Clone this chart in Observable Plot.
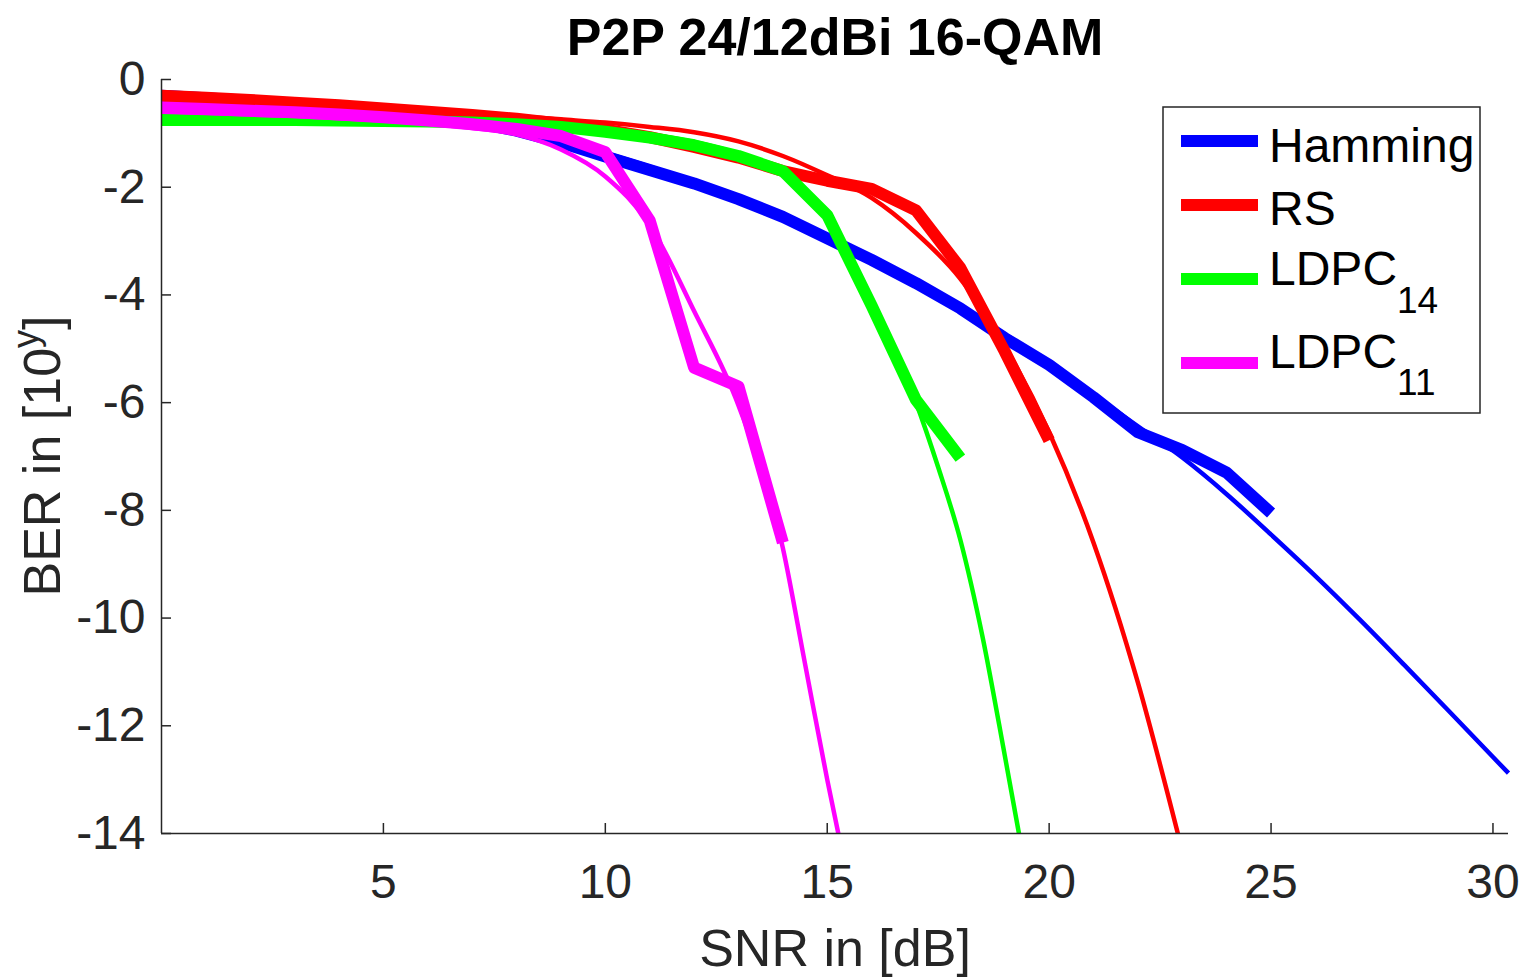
<!DOCTYPE html>
<html><head><meta charset="utf-8">
<script src="https://cdn.jsdelivr.net/npm/d3@7"></script>
<script src="https://cdn.jsdelivr.net/npm/@observablehq/plot@0.6"></script>
<style>
html,body{margin:0;padding:0;background:#fff;}
#chart{width:1522px;height:979px;}
</style></head><body><div id="chart"></div>
<script>
// ---------- data ----------
const titleText = "P2P 24/12dBi 16-QAM";
const xLabelText = "SNR in [dB]";
const yLabelMain = "BER in [10";
const yLabelSup = "y";
const yLabelEnd = "]";

const xTicks = [5, 10, 15, 20, 25, 30];
const yTicks = [0, -2, -4, -6, -8, -10, -12, -14];
const xDomain = [0, 30.35];
const yDomain = [-14, 0];

const seriesNames = ["Hamming", "RS", "LDPC", "LDPC"];
const seriesSubs = ["", "", "14", "11"];
const seriesColors = ["#0000ff", "#ff0000", "#00ff00", "#ff00ff"];

// measured (thick)
const hammingSNR = [0,1,2,3,4,5,6,7,8,9,10,11,12,13,14,15,16,17,18,19,20,21,22,23,24,25];
const hammingBER = [-0.30,-0.35,-0.40,-0.45,-0.50,-0.57,-0.66,-0.78,-0.95,-1.17,-1.43,-1.68,-1.93,-2.22,-2.55,-2.95,-3.35,-3.78,-4.25,-4.80,-5.30,-5.90,-6.55,-6.88,-7.30,-8.05];
const rsSNR = [0,1,2,3,4,5,6,7,8,9,10,11,12,13,14,15,16,17,18,19,20];
const rsBER = [-0.30,-0.34,-0.38,-0.43,-0.48,-0.54,-0.60,-0.66,-0.73,-0.82,-0.93,-1.07,-1.25,-1.45,-1.70,-1.88,-2.03,-2.43,-3.50,-5.05,-6.70];
const ldpc14SNR = [0,1,2,3,4,5,6,7,8,9,10,11,12,13,14,15,16,17,18];
const ldpc14BER = [-0.75,-0.75,-0.75,-0.75,-0.76,-0.77,-0.78,-0.80,-0.83,-0.88,-0.97,-1.08,-1.22,-1.42,-1.70,-2.52,-4.20,-5.95,-7.03];
const ldpc11SNR = [0,1,2,3,4,5,6,7,8,9,10,11,12,13,14];
const ldpc11BER = [-0.52,-0.55,-0.58,-0.61,-0.65,-0.70,-0.76,-0.83,-0.92,-1.05,-1.35,-2.62,-5.35,-5.70,-8.60];

// fitted (thin)
const hammingFitSNR = [0,1,2,3,4,5,6,7,8,9,10,11,12,13,14,15,16,17,18,19,20,21,22,23,24,25,26,27,28,29,30,30.35];
const hammingFitBER = [-0.25,-0.31,-0.37,-0.44,-0.51,-0.59,-0.68,-0.80,-0.95,-1.14,-1.37,-1.62,-1.90,-2.20,-2.53,-2.90,-3.30,-3.74,-4.22,-4.73,-5.27,-5.85,-6.44,-7.02,-7.70,-8.45,-9.22,-10.03,-10.87,-11.72,-12.58,-12.88];
const rsFitSNR = [0,1,2,3,4,5,6,7,8,9,10,11,12,13,14,15,16,17,18,19,20,21,22,22.9];
const rsFitBER = [-0.28,-0.33,-0.38,-0.43,-0.48,-0.53,-0.58,-0.63,-0.68,-0.74,-0.80,-0.88,-0.98,-1.15,-1.42,-1.78,-2.20,-2.85,-3.70,-4.95,-6.55,-8.60,-11.20,-14.0];
const ldpc14FitSNR = [0,2,4,6,7,8,9,10,11,12,13,14,14.5,15,15.5,16,16.5,17,17.5,18,18.5,19,19.32];
const ldpc14FitBER = [-0.78,-0.78,-0.79,-0.80,-0.81,-0.83,-0.87,-0.93,-1.02,-1.16,-1.38,-1.75,-2.05,-2.60,-3.35,-4.15,-5.00,-6.00,-7.20,-8.55,-10.35,-12.55,-14.0];
const ldpc11FitSNR = [0,1,2,3,4,5,6,7,8,9,10,11,12,13,14,14.5,15,15.25];
const ldpc11FitBER = [-0.60,-0.62,-0.65,-0.68,-0.72,-0.76,-0.82,-0.90,-1.02,-1.30,-1.80,-2.70,-4.30,-6.05,-8.70,-10.85,-13.0,-14.0];

// ---------- build ----------
const toRows = (xs, ys) => xs.map((x, i) => ({snr: x, ber: ys[i]}));
const measured = [
  toRows(hammingSNR, hammingBER), toRows(rsSNR, rsBER),
  toRows(ldpc14SNR, ldpc14BER), toRows(ldpc11SNR, ldpc11BER)
];
const fitted = [
  toRows(hammingFitSNR, hammingFitBER), toRows(rsFitSNR, rsFitBER),
  toRows(ldpc14FitSNR, ldpc14FitBER), toRows(ldpc11FitSNR, ldpc11FitBER)
];

const FONT = "'Liberation Sans', Arial, Helvetica, sans-serif";
const AX = "#262626";

const lineMarks = [];
for (let k = 0; k < 4; k++) {
  lineMarks.push(Plot.line(measured[k], {x: "snr", y: "ber", stroke: seriesColors[k], strokeWidth: 12, strokeLinecap: "butt", strokeLinejoin: "round"}));
  lineMarks.push(Plot.line(fitted[k], {x: "snr", y: "ber", stroke: seriesColors[k], strokeWidth: 4.5, curve: "monotone-x", strokeLinecap: "butt"}));
}

const chart = Plot.plot({
  width: 1522, height: 979,
  marginLeft: 161, marginRight: 14, marginTop: 79, marginBottom: 146,
  style: {fontFamily: FONT, background: "#fff", color: AX, overflow: "visible"},
  x: {domain: xDomain},
  y: {domain: yDomain},
  marks: [
    ...lineMarks,
    Plot.ruleX([xDomain[0]], {stroke: AX, strokeWidth: 1.5}),
    Plot.ruleY([yDomain[0]], {stroke: AX, strokeWidth: 1.5}),
    Plot.axisX(xTicks, {tickSize: -10, tickPadding: 40, fontSize: 48, tickFormat: d => String(d), label: null, stroke: AX, fill: AX, strokeWidth: 1.5}),
    Plot.axisY(yTicks, {tickSize: -10, tickPadding: 26, fontSize: 48, tickFormat: d => String(d), label: null, stroke: AX, fill: AX, strokeWidth: 1.5}),
    Plot.text([titleText], {text: d => d, frameAnchor: "top", dy: -41, fontSize: 52, fontWeight: "bold", fill: "#000", lineAnchor: "middle"}),
    Plot.text([xLabelText], {text: d => d, frameAnchor: "bottom", dy: 116, fontSize: 52, fill: AX, lineAnchor: "middle"})
  ]
});
document.getElementById("chart").appendChild(chart);

// ---------- y label with superscript ----------
const svg = d3.select(chart.tagName.toLowerCase() === "svg" ? chart : chart.querySelector("svg"));
const yl = svg.append("text")
  .attr("transform", "translate(60,456) rotate(-90)")
  .attr("text-anchor", "middle")
  .attr("font-family", FONT).attr("font-size", 52).attr("fill", AX);
yl.append("tspan").text(yLabelMain);
yl.append("tspan").attr("font-size", 36).attr("dy", -22).text(yLabelSup);
yl.append("tspan").attr("dy", 22).text(yLabelEnd);

// ---------- legend ----------
const lg = svg.append("g").attr("font-family", FONT).attr("text-anchor", "start");
lg.append("rect").attr("x", 1163).attr("y", 107).attr("width", 317).attr("height", 306)
  .attr("fill", "#fff").attr("stroke", AX).attr("stroke-width", 1.5);
const lineYs = [141, 205, 279, 363];
const baseYs = [162, 225, 285, 368];
const subYs = [0, 0, 313, 395];
seriesNames.forEach((name, k) => {
  lg.append("line").attr("x1", 1181).attr("x2", 1258).attr("y1", lineYs[k]).attr("y2", lineYs[k])
    .attr("stroke", seriesColors[k]).attr("stroke-width", 12);
  const t = lg.append("text").attr("x", 1269).attr("y", baseYs[k]).attr("font-size", 48)
    .attr("fill", "#000").attr("text-anchor", "start");
  t.append("tspan").text(name);
  if (seriesSubs[k]) t.append("tspan").attr("y", subYs[k]).attr("font-size", 37).text(seriesSubs[k]);
});
</script></body></html>
